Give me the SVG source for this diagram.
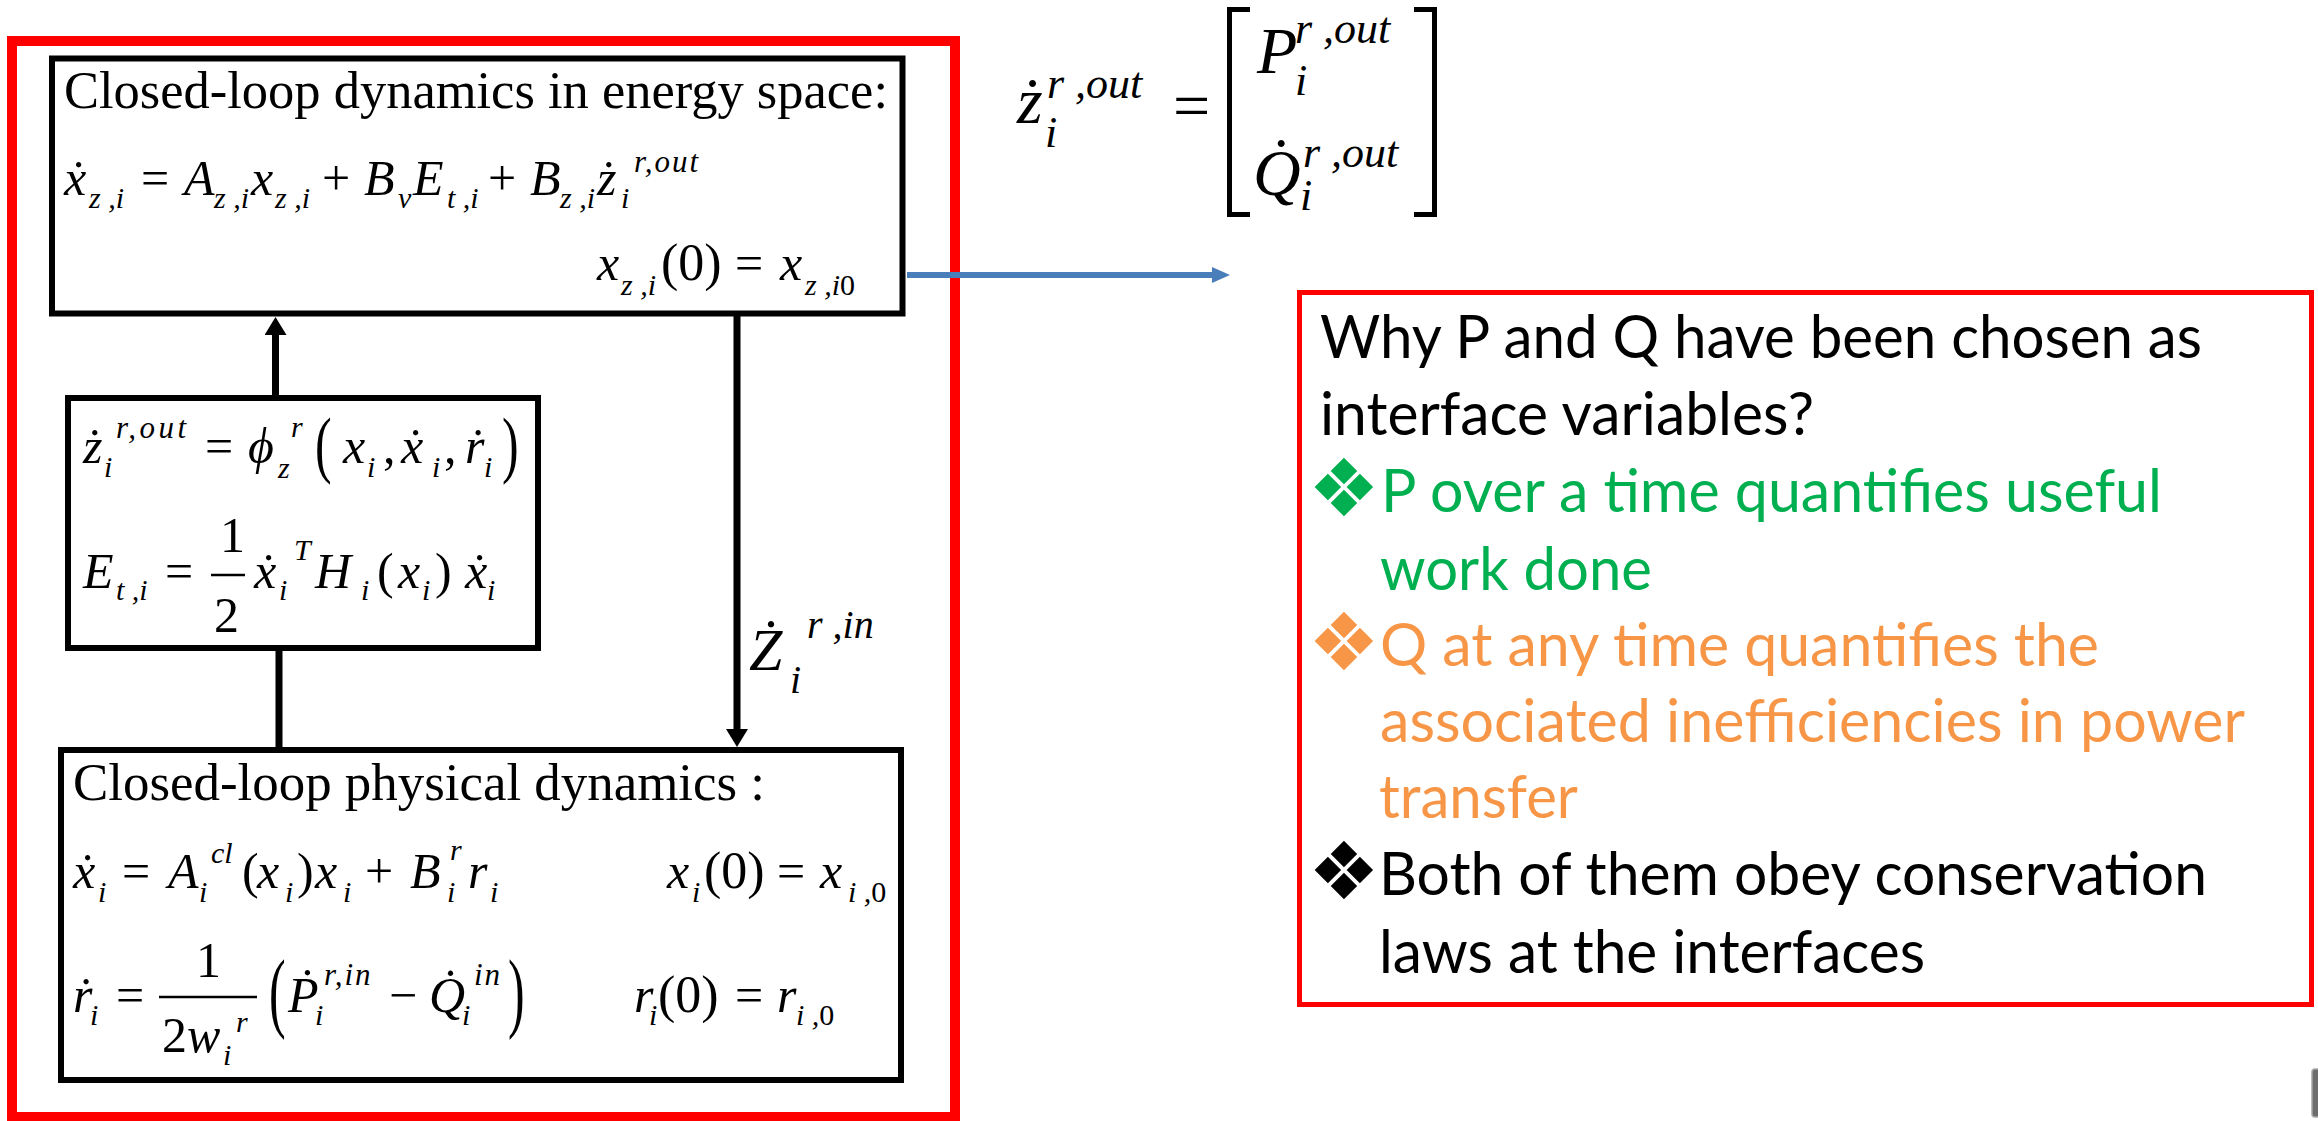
<svg xmlns="http://www.w3.org/2000/svg" width="2318" height="1121" viewBox="0 0 2318 1121">
<style>
.box{fill:#fff;stroke:#000;stroke-width:6}
.ti{font-family:"Liberation Serif",serif;font-size:52px}
.eq{font-family:"Liberation Serif",serif;font-size:50px;fill:#000}
.EQ{font-family:"Liberation Serif",serif;font-size:66px;fill:#000}
.i{font-style:italic}
.sb{font-style:italic;font-size:30px}
.sp{font-style:italic;font-size:31px;letter-spacing:2px}
.SB{font-style:italic;font-size:44px}
.up{font-style:normal}
.cal{font-family:Lato,"Open Sans",sans-serif;font-size:60px}
.bul{font-family:"DejaVu Sans",sans-serif;font-size:80px}
.blk{fill:#000}
.grn{fill:#00B050}
.org{fill:#F79646}
.conn{stroke:#000;stroke-width:7;fill:none}
.bar{stroke:#000;stroke-width:2.5}
</style>
<defs>
<marker id="ah" viewBox="0 0 18 22" refX="12" refY="11" markerWidth="18" markerHeight="22" markerUnits="userSpaceOnUse" orient="auto">
<path d="M0,0 L18,11 L0,22 z" fill="#000"/>
</marker>
<marker id="ahb" viewBox="0 0 18 16" refX="11" refY="8" markerWidth="18" markerHeight="16" markerUnits="userSpaceOnUse" orient="auto">
<path d="M0,0 L18,8 L0,16 z" fill="#4A7EBB"/>
</marker>
</defs>
<rect width="2318" height="1121" fill="#fff"/>

<g id="outer-frame">
<rect x="12" y="41" width="943" height="1076" fill="none" stroke="#f00" stroke-width="10"/>
</g>

<g id="connectors">
<line class="conn" x1="275.5" y1="398" x2="275.5" y2="323" marker-end="url(#ah)"/>
<line class="conn" x1="279" y1="648" x2="279" y2="750"/>
<line class="conn" x1="737" y1="313" x2="737" y2="741" marker-end="url(#ah)"/>
<line x1="907" y1="275" x2="1223" y2="275" stroke="#4A7EBB" stroke-width="6" marker-end="url(#ahb)"/>
<g id="zin-label">
<text class="eq" style="font-size:60px"><tspan class="i" x="749" y="670">Ż</tspan><tspan class="i" x="790" y="693" style="font-size:40px">i</tspan><tspan class="i" x="807" y="638" style="font-size:40px">r ,in</tspan></text>
</g>
</g>

<g id="energy-box">
<rect class="box" x="52" y="58.5" width="850.5" height="255"/>
<text class="ti" x="64" y="108" textLength="824" lengthAdjust="spacingAndGlyphs">Closed-loop dynamics in energy space:</text>
<text class="eq"><tspan class="i" x="64" y="195">x&#x307;</tspan><tspan class="sb" x="89" y="208">z ,i</tspan><tspan x="141" y="195">=</tspan><tspan class="i" x="184" y="195">A</tspan><tspan class="sb" x="214" y="208">z ,i</tspan><tspan class="i" x="251" y="195">x</tspan><tspan class="sb" x="275" y="208">z ,i</tspan><tspan x="322" y="195">+</tspan><tspan class="i" x="364" y="195">B</tspan><tspan class="sb" x="398" y="208">v</tspan><tspan class="i" x="413" y="195">E</tspan><tspan class="sb" x="447" y="208">t ,i</tspan><tspan x="488" y="195">+</tspan><tspan class="i" x="530" y="195">B</tspan><tspan class="sb" x="560" y="208">z ,i</tspan><tspan class="i" x="597" y="195">ż</tspan><tspan class="sb" x="621" y="208">i</tspan><tspan class="sp" x="634" y="172">r,out</tspan></text>
<text class="eq"><tspan class="i" x="597" y="280">x</tspan><tspan class="sb" x="621" y="295">z ,i</tspan><tspan x="661" y="280" style="font-size:52px">(0)</tspan><tspan x="735" y="280">=</tspan><tspan class="i" x="780" y="280">x</tspan><tspan class="sb" x="805" y="295">z ,i<tspan class="up">0</tspan></tspan></text>
</g>

<g id="map-box">
<rect class="box" x="68" y="398" width="470" height="250"/>
<text class="eq"><tspan class="i" x="83" y="463">ż</tspan><tspan class="sb" x="104" y="477">i</tspan><tspan class="sp" x="116" y="438" style="letter-spacing:3.5px">r,out</tspan><tspan x="205" y="463">=</tspan><tspan class="i" x="248" y="463">ϕ</tspan><tspan class="sb" x="278" y="478">z</tspan><tspan class="sb" x="291" y="437">r</tspan><tspan class="i" x="343" y="463">x</tspan><tspan class="sb" x="367" y="477">i</tspan><tspan x="383" y="463">,</tspan><tspan class="i" x="401" y="463">x&#x307;</tspan><tspan class="sb" x="432" y="477">i</tspan><tspan x="444" y="463">,</tspan><tspan class="i" x="465" y="463">r&#x307;</tspan><tspan class="sb" x="484" y="477">i</tspan></text>
<text class="eq" transform="translate(315,469) scale(1,1.5)">(</text>
<text class="eq" transform="translate(502,469) scale(1,1.5)">)</text>
<text class="eq"><tspan class="i" x="83" y="588">E</tspan><tspan class="sb" x="116" y="600">t ,i</tspan><tspan x="165" y="588">=</tspan><tspan x="220" y="552">1</tspan><tspan x="214" y="632">2</tspan><tspan class="i" x="254" y="588">x&#x307;</tspan><tspan class="sb" x="279" y="600">i</tspan><tspan class="sb" x="294" y="560">T</tspan><tspan class="i" x="315" y="588">H</tspan><tspan class="sb" x="361" y="600">i</tspan><tspan x="377" y="588">(</tspan><tspan class="i" x="398" y="588">x</tspan><tspan class="sb" x="422" y="600">i</tspan><tspan x="435" y="588">)</tspan><tspan class="i" x="465" y="588">x&#x307;</tspan><tspan class="sb" x="487" y="600">i</tspan></text>
<line class="bar" x1="211" y1="575" x2="245" y2="575"/>
</g>

<g id="physical-box">
<rect class="box" x="61" y="750" width="840" height="330"/>
<text class="ti" x="73" y="800" textLength="692" lengthAdjust="spacingAndGlyphs">Closed-loop physical dynamics :</text>
<text class="eq"><tspan class="i" x="73" y="888">x&#x307;</tspan><tspan class="sb" x="98" y="902">i</tspan><tspan x="122" y="888">=</tspan><tspan class="i" x="168" y="888">A</tspan><tspan class="sb" x="199" y="902">i</tspan><tspan class="sb" x="211" y="863">cl</tspan><tspan x="242" y="888">(</tspan><tspan class="i" x="257" y="888">x</tspan><tspan class="sb" x="285" y="902">i</tspan><tspan x="297" y="888">)</tspan><tspan class="i" x="315" y="888">x</tspan><tspan class="sb" x="343" y="902">i</tspan><tspan x="365" y="888">+</tspan><tspan class="i" x="410" y="888">B</tspan><tspan class="sb" x="447" y="902">i</tspan><tspan class="sb" x="450" y="860">r</tspan><tspan class="i" x="468" y="888">r</tspan><tspan class="sb" x="490" y="902">i</tspan></text>
<text class="eq"><tspan class="i" x="667" y="888">x</tspan><tspan class="sb" x="692" y="902">i</tspan><tspan x="704" y="888" style="font-size:52px">(0)</tspan><tspan x="777" y="888">=</tspan><tspan class="i" x="820" y="888">x</tspan><tspan class="sb" x="848" y="902">i ,<tspan class="up">0</tspan></tspan></text>
<text class="eq"><tspan class="i" x="73" y="1012">r&#x307;</tspan><tspan class="sb" x="90" y="1025">i</tspan><tspan x="116" y="1012">=</tspan><tspan x="196" y="977">1</tspan><tspan x="162" y="1052">2</tspan><tspan class="i" x="187" y="1052">w</tspan><tspan class="sb" x="223" y="1065">i</tspan><tspan class="sb" x="236" y="1032">r</tspan><tspan class="i" x="288" y="1012">P&#x307;</tspan><tspan class="sb" x="315" y="1025">i</tspan><tspan class="sp" x="324" y="985">r,in</tspan><tspan x="389" y="1012">−</tspan><tspan class="i" x="429" y="1012">Q&#x307;</tspan><tspan class="sb" x="462" y="1025">i</tspan><tspan class="sp" x="474" y="985">in</tspan></text>
<text class="eq" transform="translate(269,1021) scale(1,1.77)">(</text>
<text class="eq" transform="translate(508,1021) scale(1,1.77)">)</text>
<line class="bar" x1="159" y1="997" x2="257" y2="997"/>
<text class="eq"><tspan class="i" x="634" y="1012">r</tspan><tspan class="sb" x="649" y="1025">i</tspan><tspan x="658" y="1012" style="font-size:52px">(0)</tspan><tspan x="735" y="1012">=</tspan><tspan class="i" x="777" y="1012">r</tspan><tspan class="sb" x="796" y="1025">i ,<tspan class="up">0</tspan></tspan></text>
</g>

<g id="zout-equation">
<text class="EQ"><tspan class="i" x="1017" y="123">ż</tspan><tspan class="SB" x="1045" y="147">i</tspan><tspan class="SB" x="1047" y="98">r ,out</tspan><tspan x="1173" y="128">=</tspan></text>
<polyline points="1250,9.5 1229.5,9.5 1229.5,214.5 1250,214.5" fill="none" stroke="#000" stroke-width="5"/>
<text class="EQ"><tspan class="i" x="1257" y="73">P</tspan><tspan class="SB" x="1295" y="95">i</tspan><tspan class="SB" x="1295" y="43">r ,out</tspan><tspan class="i" x="1253" y="195">Q&#x307;</tspan><tspan class="SB" x="1300" y="210">i</tspan><tspan class="SB" x="1303" y="167">r ,out</tspan></text>
<polyline points="1414,9.5 1434.5,9.5 1434.5,214.5 1414,214.5" fill="none" stroke="#000" stroke-width="5"/>
</g>

<g id="why-box">
<rect x="1299.5" y="292.5" width="1012" height="712" fill="none" stroke="#f00" stroke-width="5"/>
<text class="cal blk" x="1320" y="358" textLength="882" lengthAdjust="spacingAndGlyphs">Why P and Q have been chosen as</text>
<text class="cal blk" x="1320" y="435" textLength="494" lengthAdjust="spacingAndGlyphs">interface variables?</text>
<text class="bul grn" x="1308" y="516">❖</text>
<text class="cal grn" x="1381" y="512" textLength="781" lengthAdjust="spacingAndGlyphs">P over a time quantifies useful</text>
<text class="cal grn" x="1380" y="590" textLength="272" lengthAdjust="spacingAndGlyphs">work done</text>
<text class="bul org" x="1308" y="670">❖</text>
<text class="cal org" x="1380" y="666" textLength="719" lengthAdjust="spacingAndGlyphs">Q at any time quantifies the</text>
<text class="cal org" x="1380" y="742" textLength="865" lengthAdjust="spacingAndGlyphs">associated inefficiencies in power</text>
<text class="cal org" x="1379" y="818" textLength="199" lengthAdjust="spacingAndGlyphs">transfer</text>
<text class="bul blk" x="1308" y="899">❖</text>
<text class="cal blk" x="1379" y="895" textLength="828" lengthAdjust="spacingAndGlyphs">Both of them obey conservation</text>
<text class="cal blk" x="1379" y="973" textLength="546" lengthAdjust="spacingAndGlyphs">laws at the interfaces</text>
</g>

<rect x="2312" y="1069" width="9" height="48" rx="3" fill="#6d6d6d" stroke="#a8a8a8" stroke-width="1.5"/>
</svg>
